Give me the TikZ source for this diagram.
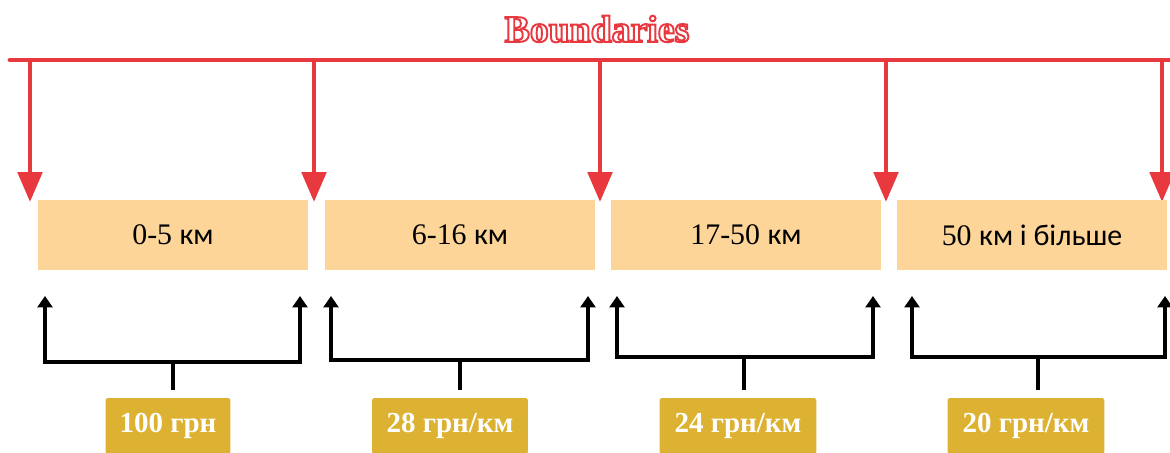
\documentclass[tikz,border=0pt]{standalone}
\usepackage{fontspec}
\setmainfont{Liberation Serif}
\newfontfamily\kmfont{Carlito}
\usetikzlibrary{arrows.meta,positioning}
\definecolor{bndred}{HTML}{E8393F}
\definecolor{segorange}{HTML}{FDD598}
\definecolor{pricegold}{HTML}{DDB232}
\newcommand{\outlined}[1]{\color{white}\special{pdf:literal 2 Tr 1.1 w 0.91 0.22 0.25 RG}#1\special{pdf:literal 0 Tr}}

\begin{document}
\begin{tikzpicture}[x=0.02cm,y=-0.02cm,
  seg/.style={fill=segorange,inner sep=0pt,minimum width=5.4cm,minimum height=1.4cm,font=\fontsize{17}{19}\selectfont},
  price/.style={fill=pricegold,rounded corners=1pt,inner sep=0pt,minimum height=1.12cm,text=white,font=\bfseries\fontsize{16.5}{18}\selectfont},
  bnd/.style={draw=bndred,line width=2.8pt,-{Triangle[width=13.7pt,length=17pt]}},
  brk/.style={draw=black,line width=2.2pt,{Triangle[width=8.5pt,length=6.5pt]}-{Triangle[width=8.5pt,length=6.5pt]}}]
\useasboundingbox (0,0) rectangle (1170,453);
\node[font=\bfseries\fontsize{21.5}{24}\selectfont] (title) at (597,29) {\outlined{Boundaries}};
\coordinate (lineL) at (10,60);
\coordinate (lineR) at (1170,60);
\draw[bndred,line width=2.8pt,line cap=round] (lineL) -- (lineR);
\foreach \i/\x in {0/30,1/314,2/600,3/886,4/1162} {
  \coordinate (top\i) at (\x,60);
  \coordinate (tip\i) at (\x,202);
  \draw[bnd] (top\i) -- (tip\i);
}
\node[seg] (seg1) at (173,235) {0-5 {\kmfont км}};
\node[seg] (seg2) at (460,235) {6-16 {\kmfont км}};
\node[seg] (seg3) at (746,235) {17-50 {\kmfont км}};
\node[seg] (seg4) at (1032,235) {50 {\kmfont км і більше}};
\node[price,minimum width=2.5cm] (price1) at (168,426) {100 грн};
\node[price,minimum width=3.12cm] (price2) at (450,426) {28 грн/км};
\node[price,minimum width=3.14cm] (price3) at (738,426) {24 грн/км};
\node[price,minimum width=3.14cm] (price4) at (1026,426) {20 грн/км};
\foreach \i/\l/\r/\m/\yb in {1/45/300/173/362,2/331/588/460/360,3/617/873/744/357,4/912/1165/1038/357} {
  \coordinate (l\i) at (\l,296);
  \coordinate (r\i) at (\r,296);
  \coordinate (m\i) at (\m,\yb);
  \draw[brk] (l\i) |- (m\i) -| (r\i);
  \draw[black,line width=2.2pt] (m\i) -- ([yshift=4.5pt]m\i |- price\i.north);
}
\end{tikzpicture}
\end{document}
